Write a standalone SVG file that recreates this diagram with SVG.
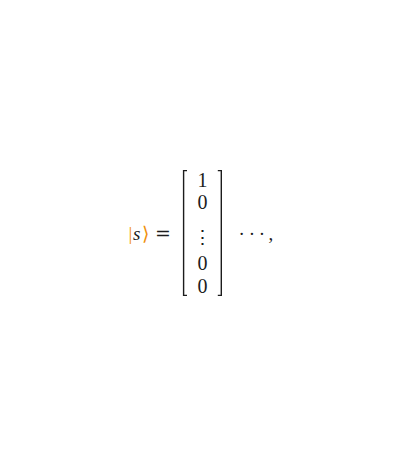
<svg xmlns="http://www.w3.org/2000/svg" width="400" height="468" viewBox="0 0 400 468">
<style>
.t{font-family:"Liberation Serif","DejaVu Serif",serif;font-size:19px;fill:#1c1c1c}
.n{font-size:20px}
.d{font-family:"DejaVu Serif","Liberation Serif",serif}
.o{fill:#f0900c}
.br{fill:none;stroke:#1c1c1c;stroke-width:1.4}
</style>
<rect width="400" height="468" fill="#ffffff"/>
<g id="ket">
<text class="t o" x="128.6" y="239.5">|</text>
<text class="t" x="133" y="239.5" font-style="italic">s</text>
<text class="t o d" x="142" y="239.5" font-size="18">⟩</text>
<text class="t d" x="155" y="239.5" font-size="18">=</text>
</g>
<g id="matrix">
<path class="br" d="M187,170.6 H183.6 V295.4 H187"/>
<path class="br" d="M217.8,170.6 H221.3 V295.4 H217.8"/>
<text class="t n" x="202.6" y="187" text-anchor="middle">1</text>
<text class="t n" x="202.6" y="208.5" text-anchor="middle">0</text>
<text class="t d" x="202" y="244" text-anchor="middle" font-size="22">⋮</text>
<text class="t n" x="202.6" y="270" text-anchor="middle">0</text>
<text class="t n" x="202.6" y="292.5" text-anchor="middle">0</text>
</g>
<g id="tail">
<text class="t" x="238.5" y="240" letter-spacing="3.8">···</text>
<text class="t" x="268.5" y="240">,</text>
</g>
</svg>
